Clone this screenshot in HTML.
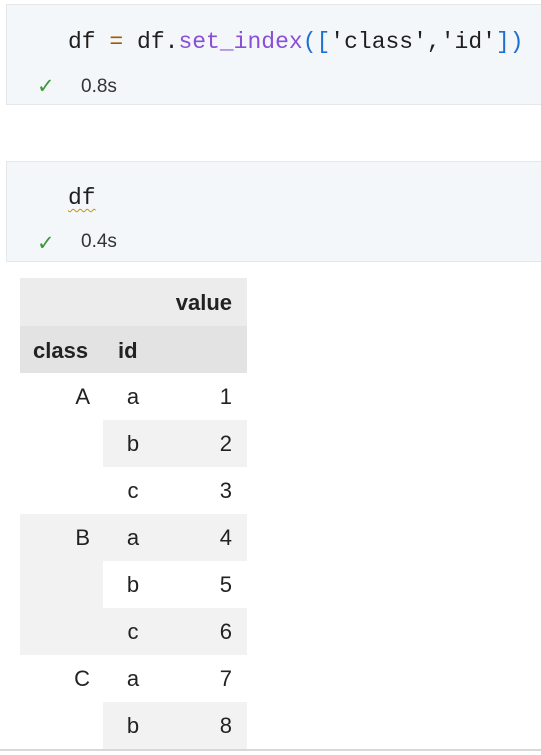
<!DOCTYPE html>
<html><head><style>
body{margin:0;width:541px;height:755px;background:#fff;position:relative;overflow:hidden;font-family:"Liberation Sans",sans-serif}
.cell{position:absolute;left:6px;width:540px;height:101px;background:#f4f7f9;border:1px solid #e5e8eb;box-sizing:border-box}
.code{position:absolute;left:61px;font-family:"Liberation Mono",monospace;font-size:23px;color:#1f1f1f;white-space:pre}
.t{position:absolute;left:31px;font-size:19px;color:#333}
.ck{position:absolute;left:30px;color:#3a9a3a;font-size:21px}
.r{position:absolute;height:47px;line-height:47px;font-size:22px;color:#222}
.bg{position:absolute;background:#f2f2f2}
</style></head><body>
<div class="cell" style="top:4px">
 <div class="code" style="top:24px">df <span style="color:#a05a00">=</span> df.<span style="color:#8a4fd8">set_index</span><span style="color:#1e6fd0">([</span>'class','id'<span style="color:#1e6fd0">])</span></div>
 <div class="ck" style="top:69px">✓</div>
 <div class="t" style="left:74px;top:71px">0.8s</div>
</div>
<div class="cell" style="top:161px">
 <div class="code" style="top:23px;text-decoration:underline wavy #c8900a;text-underline-offset:4px;text-decoration-thickness:1px">df</div>
 <div class="ck" style="top:69px">✓</div>
 <div class="t" style="left:74px;top:69px">0.4s</div>
</div>
<div class="bg" style="left:20px;top:278px;width:227px;height:48px;background:#ececec"></div>
<div class="bg" style="left:20px;top:326px;width:227px;height:47px;background:#e3e3e3"></div>
<div class="bg" style="left:103px;top:420px;width:144px;height:47px"></div>
<div class="bg" style="left:20px;top:514px;width:227px;height:47px"></div>
<div class="bg" style="left:20px;top:561px;width:83px;height:47px"></div>
<div class="bg" style="left:20px;top:608px;width:227px;height:47px"></div>
<div class="bg" style="left:103px;top:702px;width:144px;height:47px"></div>
<div style="position:absolute;left:0;top:749px;width:541px;height:2px;background:#d8d8d8"></div>
<div class="r" style="left:120px;width:112px;text-align:right;top:279px;font-weight:bold">value</div>
<div class="r" style="left:33px;top:327px;font-weight:bold">class</div>
<div class="r" style="left:118px;top:327px;font-weight:bold">id</div>
<div class="r" style="left:20px;width:70px;text-align:right;top:373px">A</div>
<div class="r" style="left:20px;width:70px;text-align:right;top:514px">B</div>
<div class="r" style="left:20px;width:70px;text-align:right;top:655px">C</div>
<div class="r" style="left:113px;width:40px;text-align:center;top:373px">a</div>
<div class="r" style="left:113px;width:40px;text-align:center;top:420px">b</div>
<div class="r" style="left:113px;width:40px;text-align:center;top:467px">c</div>
<div class="r" style="left:113px;width:40px;text-align:center;top:514px">a</div>
<div class="r" style="left:113px;width:40px;text-align:center;top:561px">b</div>
<div class="r" style="left:113px;width:40px;text-align:center;top:608px">c</div>
<div class="r" style="left:113px;width:40px;text-align:center;top:655px">a</div>
<div class="r" style="left:113px;width:40px;text-align:center;top:702px">b</div>
<div class="r" style="left:180px;width:52px;text-align:right;top:373px">1</div>
<div class="r" style="left:180px;width:52px;text-align:right;top:420px">2</div>
<div class="r" style="left:180px;width:52px;text-align:right;top:467px">3</div>
<div class="r" style="left:180px;width:52px;text-align:right;top:514px">4</div>
<div class="r" style="left:180px;width:52px;text-align:right;top:561px">5</div>
<div class="r" style="left:180px;width:52px;text-align:right;top:608px">6</div>
<div class="r" style="left:180px;width:52px;text-align:right;top:655px">7</div>
<div class="r" style="left:180px;width:52px;text-align:right;top:702px">8</div>
</body></html>
